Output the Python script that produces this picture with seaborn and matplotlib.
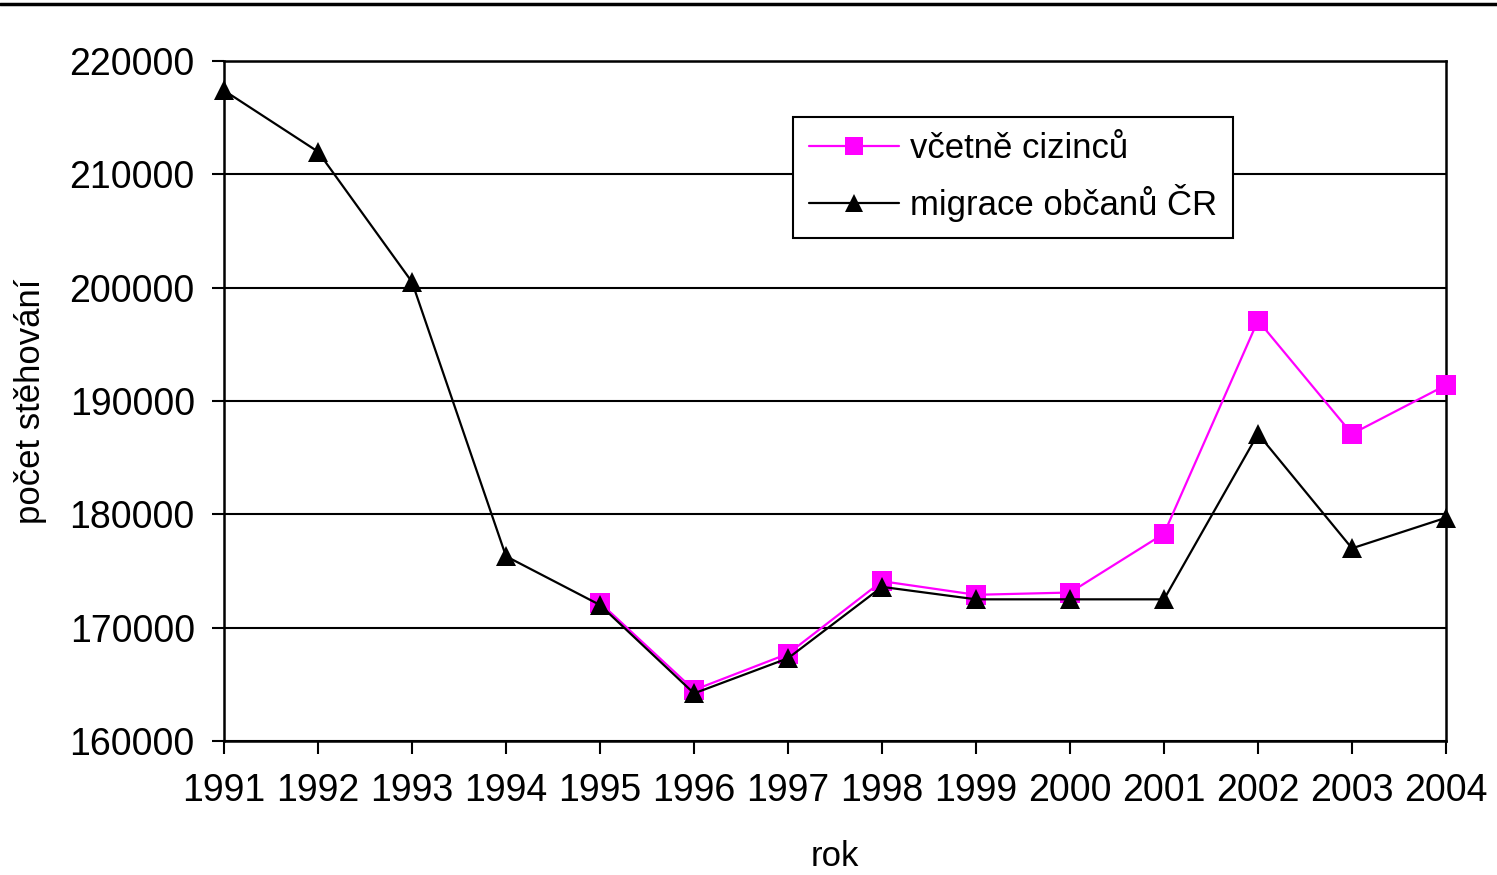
import matplotlib
matplotlib.use("Agg")
import matplotlib.pyplot as plt
import seaborn as sns
import pandas as pd
from matplotlib.lines import Line2D

years = [1991, 1992, 1993, 1994, 1995, 1996, 1997, 1998, 1999, 2000, 2001, 2002, 2003, 2004]
citizens = [217400, 212000, 200500, 176300, 172000, 164200, 167300, 173600,
            172500, 172500, 172500, 187100, 177000, 179700]
foreign_years = [1995, 1996, 1997, 1998, 1999, 2000, 2001, 2002, 2003, 2004]
with_foreigners = [172200, 164500, 167700, 174100, 172900, 173100, 178300,
                   197100, 187100, 191400]

label_all = "včetně cizinců"
label_cz = "migrace občanů ČR"

df = pd.concat([
    pd.DataFrame({"rok": foreign_years, "value": with_foreigners, "series": label_all}),
    pd.DataFrame({"rok": years, "value": citizens, "series": label_cz}),
])

sns.set_style("white")
plt.rcParams["font.family"] = ["Liberation Sans", "DejaVu Sans"]
plt.rcParams["text.color"] = "black"
plt.rcParams["axes.labelcolor"] = "black"
plt.rcParams["xtick.color"] = "black"
plt.rcParams["ytick.color"] = "black"

fig = plt.figure(figsize=(14.97, 8.75), dpi=100)
ax = fig.add_axes([224 / 1497, 1 - 741 / 875, 1222 / 1497, 680 / 875])

sns.lineplot(data=df, x="rok", y="value", hue="series", style="series",
             hue_order=[label_all, label_cz], style_order=[label_all, label_cz],
             palette={label_all: "#ff00ff", label_cz: "black"},
             markers={label_all: "s", label_cz: "^"}, dashes=False,
             linewidth=1.6, markersize=14, markeredgewidth=0,
             ax=ax, legend=False, clip_on=False, zorder=5)

ax.set_xlim(1991, 2004)
ax.set_ylim(160000, 220000)
ax.set_xticks(years)
ax.set_yticks(range(160000, 220001, 10000))
ax.tick_params(axis="both", labelsize=27, direction="out", length=9, width=1.5,
               color="black", labelcolor="black", bottom=True, left=True)
ax.tick_params(axis="y", pad=12)
ax.tick_params(axis="x", pad=14)
ax.yaxis.grid(True, color="black", linewidth=1.5)
ax.set_axisbelow(True)
for s in ax.spines.values():
    s.set_visible(True)
    s.set_color("black")
    s.set_linewidth(1.8)

ax.set_xlabel("rok", fontsize=25, labelpad=22)
ax.set_ylabel("počet stěhování", fontsize=25, labelpad=16)

handles = [
    Line2D([], [], color="#ff00ff", marker="s", markersize=13, markeredgewidth=0, linewidth=1.6),
    Line2D([], [], color="black", marker="^", markersize=13, markeredgewidth=0, linewidth=1.6),
]
leg = ax.legend(handles, [label_all, label_cz], loc="upper left",
                bbox_to_anchor=(0.466, 0.918), fontsize=25, frameon=True,
                fancybox=False, edgecolor="black", framealpha=1,
                handlelength=2.6, handletextpad=0.3, borderpad=0.45,
                labelspacing=0.55, borderaxespad=0)
leg.get_frame().set_linewidth(1.5)
leg.set_zorder(10)

# line across the top of the page
fig.add_artist(Line2D([0, 1], [1 - 4 / 875, 1 - 4 / 875], color="black", linewidth=2.5,
                      transform=fig.transFigure))

fig.savefig("out.png", dpi=100)
